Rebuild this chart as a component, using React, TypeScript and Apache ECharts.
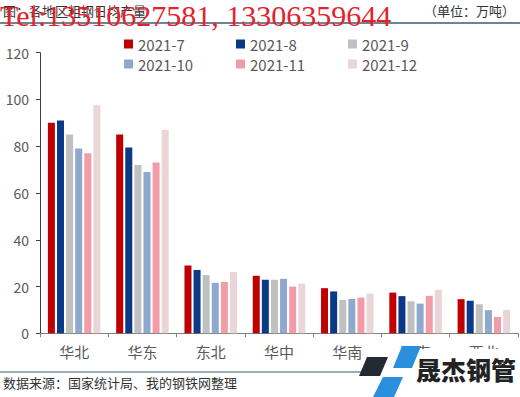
import React, { useEffect, useRef } from "react";
import * as echarts from "echarts";

const categories = ["华北", "华东", "东北", "华中", "华南", "西南", "西北"];
const seriesNames = ["2021-7", "2021-8", "2021-9", "2021-10", "2021-11", "2021-12"];
const v2021_7 = [90, 85, 29, 24.6, 19.3, 17.4, 14.6];
const v2021_8 = [91, 79.5, 27.1, 22.9, 17.9, 15.9, 13.9];
const v2021_9 = [85, 72, 24.9, 22.9, 14.3, 13.7, 12.4];
const v2021_10 = [79, 69, 21.6, 23.3, 14.7, 12.7, 9.9];
const v2021_11 = [77, 73, 22, 20, 15.3, 16, 7];
const v2021_12 = [97.5, 87, 26.2, 21.3, 17, 18.6, 10];
const seriesValues = [v2021_7, v2021_8, v2021_9, v2021_10, v2021_11, v2021_12];
const colors = ["#c00000", "#0a3a86", "#c0c0c0", "#8fa8cd", "#f29ca7", "#ead6d9"];
const yTicks = { min: 0, max: 120, interval: 20 };

const FONT = "'Noto Sans CJK SC', 'Noto Sans', sans-serif";

export default function App() {
  const ref = useRef<HTMLDivElement>(null);
  useEffect(() => {
    if (!ref.current) return;
    const chart = echarts.init(ref.current, undefined, { renderer: "svg" });
    const legendPos = [
      [124, 36],
      [236, 36],
      [348, 36],
      [124, 56],
      [236, 56],
      [348, 56],
    ];
    chart.setOption({
      animation: false,
      backgroundColor: "#ffffff",
      grid: { left: 40, right: 2, top: 52.7, bottom: 63.7, containLabel: false },
      legend: seriesNames.map((n, i) => ({
        data: [n],
        left: legendPos[i][0],
        top: legendPos[i][1],
        padding: 0,
        icon: "rect",
        itemWidth: 9,
        itemHeight: 9,
        textStyle: { fontSize: 15, color: "#595959", fontFamily: FONT, lineHeight: 16 },
      })),
      xAxis: {
        type: "category",
        data: categories,
        axisLine: { lineStyle: { color: "#7f7f7f", width: 1 } },
        axisTick: { show: true, length: 4, lineStyle: { color: "#7f7f7f" } },
        axisLabel: { fontSize: 15, color: "#595959", fontFamily: FONT, margin: 11 },
      },
      yAxis: {
        type: "value",
        min: yTicks.min,
        max: yTicks.max,
        interval: yTicks.interval,
        axisLine: { show: true, lineStyle: { color: "#404040", width: 1 } },
        axisTick: { show: true, length: 4, lineStyle: { color: "#404040" } },
        splitLine: { show: false },
        axisLabel: { fontSize: 14, color: "#595959", fontFamily: FONT, margin: 11 },
      },
      series: seriesNames.map((n, i) => ({
        name: n,
        type: "bar",
        data: seriesValues[i],
        barWidth: 7,
        barGap: "30%",
        itemStyle: { color: colors[i] },
      })),
      graphic: [
        {
          type: "text",
          left: 3,
          top: 4,
          z: 100,
          style: { text: "图：各地区粗钢日均产量", fontSize: 13, fill: "#333", fontFamily: FONT },
        },
        {
          type: "text",
          left: 424,
          top: 4,
          z: 100,
          style: { text: "（单位：万吨）", fontSize: 13, fill: "#333", fontFamily: FONT },
        },
        {
          type: "line",
          z: 100,
          shape: { x1: 0, y1: 23, x2: 520, y2: 23 },
          style: { stroke: "#6f8391", lineWidth: 2 },
        },
        {
          type: "text",
          left: 0,
          top: 0,
          z: 101,
          style: {
            text: "Tel:13510627581, 13306359644",
            fontSize: 30,
            fill: "#e3222b",
            fontFamily: "'Liberation Serif', 'DejaVu Serif', serif",
          },
        },
        {
          type: "line",
          z: 100,
          shape: { x1: 0, y1: 372, x2: 362, y2: 372 },
          style: { stroke: "#7f8f9c", lineWidth: 1.5 },
        },
        {
          type: "text",
          left: 3,
          top: 376,
          z: 100,
          style: { text: "数据来源：国家统计局、我的钢铁网整理", fontSize: 13, fill: "#333", fontFamily: FONT },
        },
        {
          type: "rect",
          z: 100,
          shape: { x: 385, y: 349, width: 135, height: 48 },
          style: { fill: "#ffffff" },
        },
        {
          type: "polygon",
          z: 101,
          shape: { points: [[367, 357], [388, 357], [380, 376], [359, 376]] },
          style: { fill: "#232a33" },
        },
        {
          type: "polygon",
          z: 101,
          shape: { points: [[402, 346], [421, 346], [412, 368], [393, 368]] },
          style: { fill: "#2a8fdc" },
        },
        {
          type: "polygon",
          z: 101,
          shape: { points: [[383, 377], [403, 377], [394, 397], [373, 397]] },
          style: { fill: "#2a8fdc" },
        },
        {
          type: "text",
          left: 416,
          top: 356,
          z: 101,
          style: {
            text: "晟杰钢管",
            fontSize: 25,
            fontWeight: 900,
            fill: "#222",
            fontFamily: FONT,
          },
        },
      ],
    });
    return () => chart.dispose();
  }, []);
  return <div ref={ref} style={{ width: 520, height: 397, position: "absolute", left: 0, top: 0 }} />;
}
